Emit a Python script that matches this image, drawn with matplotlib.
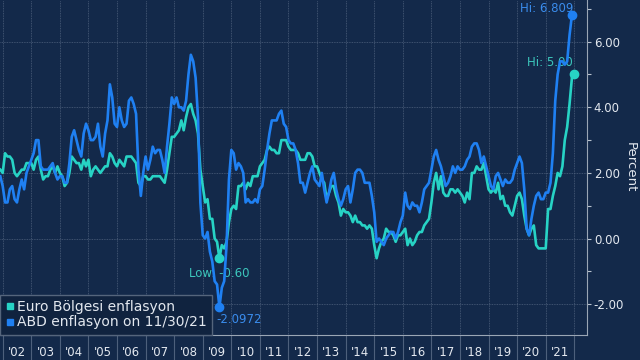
import matplotlib
matplotlib.use('Agg')
import matplotlib.pyplot as plt
from matplotlib.lines import Line2D
from matplotlib.ticker import MultipleLocator, FormatStrFormatter
import numpy as np

# aylik veriler, Kasim 2001'den itibaren (ay sonu)
abd_enflasyon = [
    1.9, 1.6,
    1.1, 1.1, 1.5, 1.6, 1.2, 1.1, 1.5, 1.8, 1.5, 2.0, 2.2, 2.4,   # 2002
    2.6, 3.0, 3.0, 2.2, 2.1, 2.1, 2.1, 2.2, 2.3, 2.0, 1.8, 1.9,   # 2003
    1.9, 1.7, 1.7, 2.3, 3.1, 3.3, 3.0, 2.7, 2.5, 3.2, 3.5, 3.3,   # 2004
    3.0, 3.0, 3.1, 3.5, 2.8, 2.5, 3.2, 3.6, 4.7, 4.3, 3.5, 3.4,   # 2005
    4.0, 3.6, 3.4, 3.5, 4.2, 4.3, 4.1, 3.8, 2.1, 1.3, 2.0, 2.5,   # 2006
    2.1, 2.4, 2.8, 2.6, 2.7, 2.7, 2.4, 2.0, 2.8, 3.5, 4.3, 4.1,   # 2007
    4.3, 4.0, 4.0, 3.9, 4.2, 5.0, 5.6, 5.4, 4.9, 3.7, 1.1, 0.1,   # 2008
    0.0, 0.2, -0.4, -0.7, -1.3, -1.4, -2.0972, -1.5, -1.3, -0.2, 1.8, 2.7,  # 2009
    2.6, 2.1, 2.3, 2.2, 2.0, 1.1, 1.2, 1.1, 1.1, 1.2, 1.1, 1.5,   # 2010
    1.6, 2.1, 2.7, 3.2, 3.6, 3.6, 3.6, 3.8, 3.9, 3.5, 3.4, 3.0,   # 2011
    2.9, 2.9, 2.7, 2.3, 1.7, 1.7, 1.4, 1.7, 2.0, 2.2, 1.8, 1.7,   # 2012
    1.6, 2.0, 1.5, 1.1, 1.4, 1.8, 2.0, 1.5, 1.2, 1.0, 1.2, 1.5,   # 2013
    1.6, 1.1, 1.5, 2.0, 2.1, 2.1, 2.0, 1.7, 1.7, 1.7, 1.3, 0.8,   # 2014
    -0.1, 0.0, -0.1, -0.2, 0.0, 0.1, 0.2, 0.2, 0.0, 0.2, 0.5, 0.7,  # 2015
    1.4, 1.0, 0.9, 1.1, 1.0, 1.0, 0.8, 1.1, 1.5, 1.6, 1.7, 2.1,   # 2016
    2.5, 2.7, 2.4, 2.2, 1.9, 1.6, 1.7, 1.9, 2.2, 2.0, 2.2, 2.1,   # 2017
    2.1, 2.2, 2.4, 2.5, 2.8, 2.9, 2.9, 2.7, 2.3, 2.5, 2.2, 1.9,   # 2018
    1.6, 1.5, 1.9, 2.0, 1.8, 1.6, 1.8, 1.7, 1.7, 1.8, 2.1, 2.3,   # 2019
    2.5, 2.3, 1.5, 0.3, 0.1, 0.6, 1.0, 1.3, 1.4, 1.2, 1.2, 1.4,   # 2020
    1.4, 1.7, 2.6, 4.2, 5.0, 5.4, 5.4, 5.3, 5.4, 6.2, 6.809,      # 2021
]

euro_enflasyon = [
    2.1, 2.0,
    2.6, 2.5, 2.5, 2.4, 2.0, 1.9, 2.0, 2.1, 2.1, 2.3, 2.3, 2.3,   # 2002
    2.1, 2.4, 2.5, 2.1, 1.8, 1.9, 1.9, 2.1, 2.2, 2.0, 2.2, 2.0,   # 2003
    1.9, 1.6, 1.7, 2.0, 2.5, 2.4, 2.3, 2.3, 2.1, 2.4, 2.2, 2.4,   # 2004
    1.9, 2.1, 2.2, 2.1, 2.0, 2.1, 2.2, 2.2, 2.6, 2.5, 2.3, 2.2,   # 2005
    2.4, 2.3, 2.2, 2.5, 2.5, 2.5, 2.4, 2.3, 1.7, 1.6, 1.9, 1.9,   # 2006
    1.8, 1.8, 1.9, 1.9, 1.9, 1.9, 1.8, 1.7, 2.1, 2.6, 3.1, 3.1,   # 2007
    3.2, 3.3, 3.6, 3.3, 3.7, 4.0, 4.1, 3.8, 3.6, 3.2, 2.1, 1.6,   # 2008
    1.1, 1.2, 0.6, 0.6, 0.0, -0.1, -0.6, -0.2, -0.3, -0.1, 0.5, 0.9,  # 2009
    1.0, 0.9, 1.6, 1.6, 1.7, 1.5, 1.7, 1.6, 1.9, 1.9, 1.9, 2.2,   # 2010
    2.3, 2.4, 2.7, 2.8, 2.7, 2.7, 2.6, 2.6, 3.0, 3.0, 3.0, 2.8,   # 2011
    2.7, 2.7, 2.7, 2.6, 2.4, 2.4, 2.4, 2.6, 2.6, 2.5, 2.2, 2.2,   # 2012
    2.0, 1.8, 1.7, 1.2, 1.4, 1.6, 1.6, 1.3, 1.1, 0.7, 0.9, 0.8,   # 2013
    0.8, 0.7, 0.5, 0.7, 0.5, 0.5, 0.4, 0.4, 0.3, 0.4, 0.3, -0.2,  # 2014
    -0.6, -0.3, -0.1, 0.0, 0.3, 0.2, 0.2, 0.1, -0.1, 0.1, 0.1, 0.2,  # 2015
    0.3, -0.2, 0.0, -0.2, -0.1, 0.1, 0.2, 0.2, 0.4, 0.5, 0.6, 1.1,  # 2016
    1.7, 2.0, 1.5, 1.9, 1.4, 1.3, 1.3, 1.5, 1.5, 1.4, 1.5, 1.4,   # 2017
    1.3, 1.1, 1.4, 1.2, 2.0, 2.0, 2.2, 2.1, 2.1, 2.3, 1.9, 1.5,   # 2018
    1.4, 1.5, 1.4, 1.7, 1.2, 1.3, 1.0, 1.0, 0.8, 0.7, 1.0, 1.3,   # 2019
    1.4, 1.2, 0.7, 0.3, 0.1, 0.3, 0.4, -0.2, -0.3, -0.3, -0.3, -0.3,  # 2020
    0.9, 0.9, 1.3, 1.6, 2.0, 1.9, 2.2, 3.0, 3.4, 4.1, 4.9, 5.0,   # 2021
]

yillar = list(range(2002, 2022))
yil_etiketleri = ["'" + str(y)[2:] for y in yillar]

BG = '#13294a'
TEAL = '#27d3c5'
BLUE = '#1f80f2'
TXT = '#e3e8ef'

# ay sonu tarihleri (ondalik yil)
x_abd = 2001 + 11 / 12 + np.arange(len(abd_enflasyon)) / 12
x_euro = 2001 + 11 / 12 + np.arange(len(euro_enflasyon)) / 12

fig = plt.figure(figsize=(6.4, 3.6), dpi=100, facecolor=BG)
ax = fig.add_axes([0.0, 0.0694, 0.917, 0.9306], facecolor=BG)

ax.plot(x_euro, euro_enflasyon, color=TEAL, lw=1.9, zorder=3)
ax.plot(x_abd, abd_enflasyon, color=BLUE, lw=1.9, zorder=4)

ax.set_xlim(2001.906, 2022.44)
ax.set_ylim(-2.94, 7.27)

# eksen ayarlari
ax.yaxis.tick_right()
ax.yaxis.set_label_position('right')
ax.yaxis.set_major_locator(MultipleLocator(2))
ax.yaxis.set_minor_locator(MultipleLocator(1))
ax.yaxis.set_major_formatter(FormatStrFormatter('%.2f'))
ax.tick_params(axis='y', which='both', colors='#b8c2ce', labelcolor=TXT, labelsize=8.5,
               direction='out', length=3, width=0.8, pad=2)
ax.set_ylabel('Percent', color=TXT, fontsize=9.5, rotation=270, labelpad=9)

ax.set_xticks(yillar + [2022])
ax.set_xticklabels([])
ax.tick_params(axis='x', length=0)

ax.grid(True, color='#4d607c', ls=(0, (1, 1)), lw=0.6, zorder=0)

for s in ['left', 'top']:
    ax.spines[s].set_visible(False)
for s in ['right', 'bottom']:
    ax.spines[s].set_color('#9aa6b5')
    ax.spines[s].set_linewidth(0.8)

# yil etiketleri ve ayiricilar
tr = ax.get_xaxis_transform()
for y, etiket in zip(yillar, yil_etiketleri):
    ax.text(y + 0.5, -0.034, etiket, transform=tr, ha='center', va='top',
            color=TXT, fontsize=8.5, clip_on=False)
for y in yillar + [2022]:
    ax.plot([y, y], [-0.08, 0], transform=tr, color='#4d607c', lw=0.8, clip_on=False)

# en yuksek / en dusuk noktalar
ax.plot(x_abd[-1], abd_enflasyon[-1], 'o', color=BLUE, ms=6, zorder=5)
ax.plot(x_euro[-1], euro_enflasyon[-1], 'o', color=TEAL, ms=6, zorder=5)
i_abd = int(np.argmin(abd_enflasyon))
i_euro = int(np.argmin(euro_enflasyon))
ax.plot(x_abd[i_abd], abd_enflasyon[i_abd], 'o', color=BLUE, ms=6, zorder=5)
ax.plot(x_euro[i_euro], euro_enflasyon[i_euro], 'o', color=TEAL, ms=6, zorder=5)

ax.annotate('Hi: 6.809', (x_abd[-1], abd_enflasyon[-1]), xytext=(1, 0),
            textcoords='offset points', ha='right', va='bottom', color='#3a8cec', fontsize=8.5)
ax.annotate('Hi: 5.00', (x_euro[-1], euro_enflasyon[-1]), xytext=(-1, 4),
            textcoords='offset points', ha='right', va='bottom', color='#3cc6bc', fontsize=8.5)
ax.annotate('Low: -0.60', (x_euro[i_euro], euro_enflasyon[i_euro]), xytext=(0, -6),
            textcoords='offset points', ha='center', va='top', color='#3cc6bc', fontsize=8.5)
ax.annotate('-2.0972', (x_abd[i_abd], abd_enflasyon[i_abd]), xytext=(-2, -4),
            textcoords='offset points', ha='left', va='top', color='#3a8cec', fontsize=8.5)

# lejant
handles = [
    Line2D([], [], marker='s', ls='none', color=TEAL, ms=5),
    Line2D([], [], marker='s', ls='none', color=BLUE, ms=5),
]
leg = ax.legend(handles, ['Euro Bölgesi enflasyon', 'ABD enflasyon on 11/30/21'],
                loc='lower left', bbox_to_anchor=(0, 0), borderaxespad=0,
                frameon=True, fancybox=False, facecolor='#10233f', edgecolor='#55657c',
                framealpha=1, fontsize=10, handlelength=0.6, handletextpad=0.2,
                labelspacing=0.1, borderpad=0.4)
for t in leg.get_texts():
    t.set_color(TXT)
leg.set_zorder(6)

plt.savefig('out.png', dpi=100, facecolor=BG)
